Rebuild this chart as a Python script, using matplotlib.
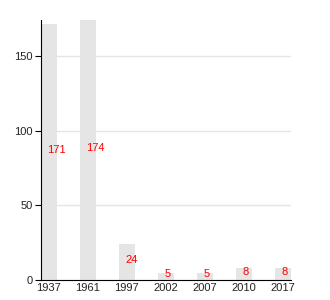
import matplotlib
matplotlib.use('Agg')
import matplotlib.pyplot as plt
from matplotlib.transforms import offset_copy

plt.rcParams['font.family'] = ['Liberation Sans', 'DejaVu Sans']

years = ['1937', '1961', '1997', '2002', '2007', '2010', '2017']
counts = [171, 174, 24, 5, 5, 8, 8]

fig = plt.figure(figsize=(3.3, 3.0), dpi=100)
ax = fig.add_axes([0.124, 0.0667, 0.758, 0.8666])

x = list(range(len(years)))
ax.bar(x, counts, width=0.4, color='#e5e5e5', zorder=2)

# value labels in red, halfway up each bar
lbl_tr = offset_copy(ax.transData, fig=fig, x=-1.5, y=2, units='dots')
for xi, v in zip(x, counts):
    ax.text(xi, v / 2, str(v), color='red', fontsize=8, ha='left', va='center',
            transform=lbl_tr, zorder=3)

ax.set_xlim(-0.2, 6.2)
ax.set_ylim(0, 174)
ax.set_xticks(x)
ax.set_xticklabels(years)
ax.set_yticks([0, 50, 100, 150])
ax.yaxis.grid(True, color='#e5e5e5', linewidth=1, zorder=0)
ax.set_axisbelow(True)

for s in ['top', 'right']:
    ax.spines[s].set_visible(False)
ax.tick_params(axis='x', length=0, labelsize=8, pad=2, colors='#222222')
ax.tick_params(axis='y', length=4, labelsize=8, pad=2, colors='#222222')
ax.tick_params(axis='y', color='black')

fig.savefig('out.png', dpi=100)
